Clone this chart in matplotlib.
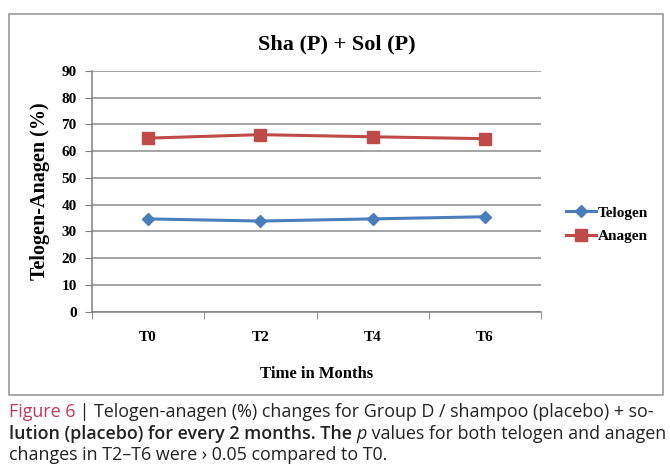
import matplotlib.pyplot as plt
from matplotlib.patches import Rectangle

# data
times = ["T0", "T2", "T4", "T6"]
telogen = [34.7, 33.9, 34.7, 35.5]
anagen = [64.9, 66.2, 65.4, 64.7]
yticks = list(range(0, 100, 10))

SERIF = "Liberation Serif"
SANS = "Open Sans"

fig = plt.figure(figsize=(6.7, 4.69), dpi=100)
fig.patch.set_facecolor("white")

# outer chart frame
fig.patches.append(Rectangle((0.0134, 0.158), 0.976, 0.812, transform=fig.transFigure,
                             fill=False, edgecolor="#9a9a9a", linewidth=1.2))

ax = fig.add_axes([0.1373, 0.3354, 0.6702, 0.5132])
x = list(range(len(times)))
ax.plot(x, telogen, color="#4a7ebb", marker="D", markersize=6.5, linewidth=2.2, label="Telogen")
ax.plot(x, anagen, color="#be4b48", marker="s", markersize=8, linewidth=2.2, label="Anagen")

ax.set_xlim(-0.5, len(times) - 0.5)
ax.set_ylim(0, 90)
ax.set_yticks(yticks)
ax.set_yticklabels([str(v) for v in yticks], fontfamily=SERIF, fontweight="bold", fontsize=11)
ax.set_xticks(x)
ax.set_xticklabels(times, fontfamily=SERIF, fontweight="bold", fontsize=11)
ax.set_xticks([i - 0.5 for i in range(len(times) + 1)], minor=True)
ax.tick_params(axis="x", which="major", length=0, pad=14)
ax.tick_params(axis="x", which="minor", length=5, color="#808080", direction="out")
ax.tick_params(axis="y", length=5, color="#808080", direction="out", pad=6)
ax.grid(axis="y", color="#8c8c8c", linewidth=1.1)
ax.set_axisbelow(True)
for s in ["top", "right"]:
    ax.spines[s].set_visible(False)
for s in ["left", "bottom"]:
    ax.spines[s].set_color("#808080")
    ax.spines[s].set_linewidth(1.1)

ax.set_ylabel("Telogen-Anagen (%)", fontfamily=SERIF, fontweight="bold", fontsize=14.5, labelpad=8)
ax.set_xlabel("Time in Months", fontfamily=SERIF, fontweight="bold", fontsize=12, labelpad=16)

fig.text(0.502, 0.905, "Sha (P) + Sol (P)", ha="center", va="center",
         fontfamily=SERIF, fontweight="bold", fontsize=16)

leg = ax.legend(loc="center left", bbox_to_anchor=(1.038, 0.362), frameon=False,
                prop={"family": SERIF, "weight": "bold", "size": 11},
                handlelength=2.0, handletextpad=0.1, labelspacing=0.65,
                borderpad=0.0)

# caption, built piece by piece so mixed styles line up
fig.canvas.draw()
renderer = fig.canvas.get_renderer()
cap_size = 12.9
lines = [
    [("Figure 6", "#c0395a", "normal", "normal"),
     (" | Telogen-anagen (%) changes for Group D / shampoo (placebo) + so-", "#222222", "normal", "normal")],
    [("lution (placebo) for every 2 months. The ", "#222222", "semibold", "normal"),
     ("p", "#222222", "normal", "italic"),
     (" values for both telogen and anagen", "#222222", "normal", "normal")],
    [("changes in T2\u2013T6 were \u203a 0.05 compared to T0.", "#222222", "normal", "normal")],
]
ys = [0.121, 0.075, 0.029]
for parts, yy in zip(lines, ys):
    xpos = 0.013
    for txt, col, wt, st in parts:
        t = fig.text(xpos, yy, txt, color=col, fontweight=wt, fontstyle=st,
                     fontfamily=SANS, fontsize=cap_size, va="center", ha="left")
        bb = t.get_window_extent(renderer=renderer)
        xpos += bb.width / fig.bbox.width

fig.savefig("out.png", dpi=100)
